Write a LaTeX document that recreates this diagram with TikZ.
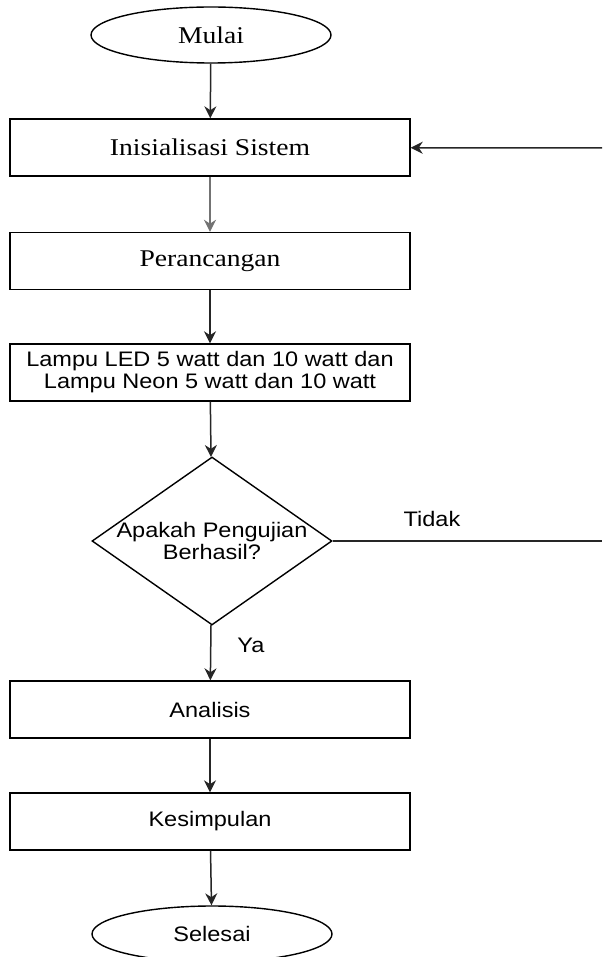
\documentclass[tikz,border=0pt]{standalone}
\usepackage{fontspec}
\setmainfont[FakeStretch=1.15]{Liberation Serif}
\setsansfont[FakeStretch=1.12]{Liberation Sans}
\usetikzlibrary{shapes.geometric,arrows.meta}
\begin{document}
\begin{tikzpicture}[x=0.5pt, y=-0.5pt,
  every node/.style={inner sep=0pt},
  terminal/.style={ellipse, draw, line width=0.7pt, minimum width=120pt, minimum height=28pt},
  process/.style={rectangle, draw, line width=0.7pt, minimum width=200pt, minimum height=28.5pt},
  decision/.style={diamond, draw, line width=0.7pt, minimum width=120pt, minimum height=84pt},
  serifText/.style={font=\fontsize{12}{14}\selectfont\rmfamily},
  sansText/.style={font=\fontsize{10.5}{11}\selectfont\sffamily, align=center},
  flow/.style={-{Stealth[length=6pt,width=6pt]}, line width=0.75pt, draw=black!85},
  plain/.style={line width=0.75pt, draw=black!85}]
\useasboundingbox (0,0) rectangle (602,957);

% start and end
\node[terminal, serifText] (mulai) at (211,35) {Mulai};
\node[terminal, sansText] (selesai) at (212,934) {Selesai};

% process steps
\node[process, serifText] (init) at (210,147.5) {Inisialisasi Sistem};
\node[process, serifText] (rancang) at (210,261) {Perancangan};
\node[process, sansText] (lampu) at (210,372.5) {Lampu LED 5 watt dan 10 watt dan\\Lampu Neon 5 watt dan 10 watt};
\node[decision, label={[sansText]center:Apakah Pengujian\\Berhasil?}] (uji) at (212,541) {};
\node[process, sansText] (analisis) at (210,709.5) {Analisis};
\node[process, sansText] (simpul) at (210,821.5) {Kesimpulan};

% loop back ends
\coordinate (balikAtas) at (602,148);
\coordinate (balikBawah) at (602,541);

% connectors
\draw[flow] (mulai) -- (init);
\draw[flow, draw=black!55] (init) -- (rancang);
\draw[flow] (rancang) -- (lampu);
\draw[flow] (lampu) -- (uji);
\draw[flow] (uji) -- (analisis);
\draw[flow] (analisis) -- (simpul);
\draw[flow] (simpul) -- (selesai);
\draw[flow] (balikAtas) -- (init);
\draw[plain] (uji) -- (balikBawah);

% branch labels
\node[sansText] (tidak) at (432,519) {Tidak};
\node[sansText] (ya) at (251,645) {Ya};
\end{tikzpicture}
\end{document}
